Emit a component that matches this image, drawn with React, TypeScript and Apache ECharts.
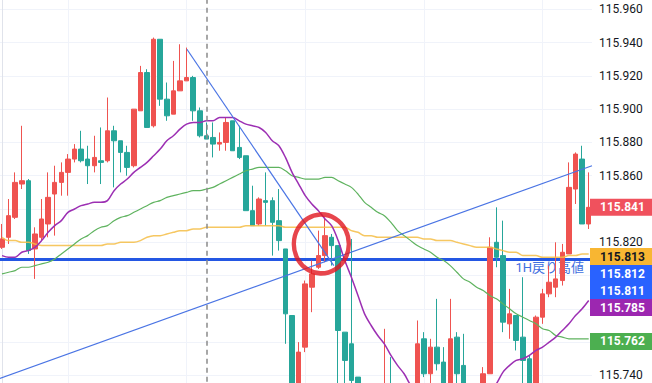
import React, { useEffect, useRef } from 'react';
import * as echarts from 'echarts';

// ---- data ----
const opens = [
  115.817, 115.823, 115.835, 115.855, 115.857, 115.816, 115.823, 115.831, 115.849, 115.856,
  115.862, 115.870, 115.876, 115.870, 115.866, 115.869, 115.869, 115.887, 115.881, 115.874,
  115.866, 115.899, 115.922, 115.890, 115.942, 115.906, 115.897, 115.911, 115.917, 115.919,
  115.899, 115.884, 115.883, 115.879, 115.880, 115.893, 115.877, 115.872, 115.839, 115.831,
  115.845, 115.845, 115.833, 115.816, 115.776, 115.732, 115.757, 115.793, 115.805, 115.812,
  115.823, 115.818, 115.766, 115.759, 115.739, 115.728, 115.720, 115.725, 115.722, 115.733,
  115.726, 115.718, 115.722, 115.728, 115.762, 115.741, 115.757, 115.748, 115.731, 115.763,
  115.746, 115.730, 115.724, 115.729, 115.741, 115.820, 115.812, 115.771, 115.776, 115.763,
  115.750, 115.733, 115.775, 115.789, 115.793, 115.797, 115.813, 115.852, 115.870, 115.831,
];
const closes = [
  115.822, 115.836, 115.856, 115.857, 115.815, 115.825, 115.834, 115.847, 115.856, 115.862,
  115.870, 115.876, 115.869, 115.866, 115.871, 115.868, 115.887, 115.881, 115.874, 115.865,
  115.900, 115.922, 115.889, 115.942, 115.906, 115.896, 115.911, 115.917, 115.919, 115.899,
  115.884, 115.882, 115.879, 115.880, 115.892, 115.875, 115.871, 115.839, 115.830, 115.846,
  115.844, 115.832, 115.821, 115.777, 115.730, 115.754, 115.795, 115.801, 115.812, 115.824,
  115.818, 115.767, 115.749, 115.737, 115.728, 115.720, 115.725, 115.722, 115.733, 115.726,
  115.718, 115.722, 115.728, 115.759, 115.741, 115.757, 115.747, 115.730, 115.762, 115.741,
  115.730, 115.724, 115.729, 115.741, 115.817, 115.811, 115.772, 115.777, 115.761, 115.749,
  115.733, 115.775, 115.789, 115.796, 115.798, 115.814, 115.853, 115.873, 115.831, 115.841,
];
const lows = [
  115.816, 115.819, 115.834, 115.852, 115.813, 115.798, 115.821, 115.823, 115.824, 115.848,
  115.848, 115.868, 115.868, 115.855, 115.862, 115.855, 115.868, 115.853, 115.862, 115.860,
  115.865, 115.899, 115.889, 115.889, 115.902, 115.893, 115.897, 115.911, 115.917, 115.893,
  115.883, 115.882, 115.871, 115.875, 115.875, 115.875, 115.870, 115.839, 115.830, 115.830,
  115.830, 115.812, 115.815, 115.759, 115.726, 115.728, 115.754, 115.778, 115.804, 115.808,
  115.806, 115.730, 115.732, 115.730, 115.724, 115.715, 115.712, 115.716, 115.718, 115.720,
  115.712, 115.710, 115.716, 115.724, 115.739, 115.733, 115.743, 115.726, 115.728, 115.735,
  115.726, 115.718, 115.720, 115.726, 115.741, 115.805, 115.766, 115.762, 115.755, 115.733,
  115.729, 115.729, 115.771, 115.787, 115.787, 115.794, 115.813, 115.843, 115.831, 115.828,
];
const highs = [
  115.831, 115.846, 115.862, 115.890, 115.858, 115.829, 115.846, 115.862, 115.866, 115.868,
  115.873, 115.879, 115.887, 115.878, 115.884, 115.889, 115.907, 115.890, 115.881, 115.878,
  115.900, 115.926, 115.924, 115.943, 115.942, 115.916, 115.929, 115.939, 115.937, 115.920,
  115.901, 115.892, 115.892, 115.886, 115.895, 115.893, 115.890, 115.872, 115.854, 115.847,
  115.862, 115.847, 115.852, 115.816, 115.776, 115.760, 115.797, 115.809, 115.827, 115.835,
  115.825, 115.818, 115.766, 115.822, 115.739, 115.733, 115.731, 115.733, 115.768, 115.751,
  115.733, 115.730, 115.733, 115.773, 115.766, 115.762, 115.786, 115.757, 115.786, 115.766,
  115.765, 115.734, 115.733, 115.745, 115.823, 115.841, 115.833, 115.792, 115.776, 115.799,
  115.752, 115.776, 115.792, 115.806, 115.820, 115.819, 115.868, 115.874, 115.878, 115.862,
];
// purple (short MA)
const maShort = [
  115.812, 115.811, 115.811, 115.814, 115.815, 115.817, 115.821, 115.826, 115.830, 115.833,
  115.838, 115.840, 115.842, 115.843, 115.844, 115.844, 115.845, 115.851, 115.855, 115.858,
  115.862, 115.865, 115.868, 115.872, 115.876, 115.881, 115.884, 115.888, 115.891, 115.892,
  115.892, 115.893, 115.893, 115.895, 115.895, 115.895, 115.893, 115.891, 115.890, 115.889,
  115.886, 115.881, 115.878, 115.871, 115.862, 115.855, 115.848, 115.843, 115.839, 115.834,
  115.830, 115.821, 115.809, 115.799, 115.788, 115.777, 115.770, 115.764, 115.759, 115.752,
  115.746, 115.741, 115.734, 115.729, 115.726, 115.724, 115.722, 115.721, 115.720, 115.720,
  115.721, 115.722, 115.724, 115.727, 115.730, 115.735, 115.742, 115.746, 115.749, 115.750,
  115.752, 115.755, 115.757, 115.760, 115.763, 115.767, 115.771, 115.776, 115.780, 115.785,
];
// green (middle MA)
const maMid = [
  115.801, 115.802, 115.803, 115.805, 115.805, 115.806, 115.807, 115.808, 115.810, 115.813,
  115.816, 115.819, 115.822, 115.824, 115.827, 115.829, 115.830, 115.833, 115.835, 115.836,
  115.838, 115.840, 115.842, 115.844, 115.845, 115.847, 115.848, 115.849, 115.850, 115.851,
  115.851, 115.852, 115.853, 115.855, 115.857, 115.859, 115.861, 115.863, 115.864, 115.865,
  115.865, 115.865, 115.865, 115.863, 115.860, 115.859, 115.858, 115.858, 115.858, 115.859,
  115.859, 115.857, 115.855, 115.853, 115.849, 115.844, 115.841, 115.838, 115.836, 115.832,
  115.827, 115.824, 115.821, 115.818, 115.816, 115.814, 115.811, 115.809, 115.806, 115.802,
  115.798, 115.796, 115.793, 115.791, 115.788, 115.786, 115.783, 115.780, 115.777, 115.775,
  115.773, 115.771, 115.768, 115.767, 115.764, 115.763, 115.762, 115.762, 115.762, 115.762,
];
// yellow (long MA)
const maLong = [
  115.823, 115.821, 115.821, 115.820, 115.820, 115.819, 115.818, 115.818, 115.818, 115.818,
  115.818, 115.818, 115.818, 115.818, 115.818, 115.818, 115.819, 115.819, 115.820, 115.820,
  115.820, 115.821, 115.823, 115.824, 115.824, 115.825, 115.826, 115.827, 115.827, 115.828,
  115.828, 115.829, 115.829, 115.829, 115.829, 115.829, 115.829, 115.830, 115.830, 115.830,
  115.830, 115.830, 115.830, 115.829, 115.829, 115.829, 115.829, 115.829, 115.829, 115.829,
  115.829, 115.829, 115.829, 115.827, 115.826, 115.824, 115.824, 115.823, 115.823, 115.823,
  115.823, 115.823, 115.823, 115.823, 115.822, 115.822, 115.821, 115.821, 115.821, 115.820,
  115.819, 115.818, 115.817, 115.817, 115.817, 115.816, 115.815, 115.814, 115.814, 115.812,
  115.812, 115.812, 115.811, 115.811, 115.811, 115.811, 115.812, 115.812, 115.813, 115.813,
];
const categories = opens.map((_, i) => String(i));
const yMin = 115.72;
const yMax = 115.98;
const yInterval = 0.02;
const gridLineIdx = [10, 28, 46, 64, 82];
const dashedIdx = 31;
const resistance = 115.811;
const resistanceLabel = '1H戻り高値';
const downTrend = [[28.05, 115.936], [50.33, 115.806]];
const upTrend = [[-0.5, 115.738], [89.5, 115.866]];
const circleMark = [48.44, 115.819];
const tagValues = [115.841, 115.813, 115.812, 115.811, 115.785, 115.762];

// ---- styles ----
const tagFill = ['#f0515d', '#f8b632', '#2962ff', '#2962ff', '#9c27b0', '#4caf50'];
const tagText = ['#ffffff', '#131722', '#ffffff', '#ffffff', '#ffffff', '#ffffff'];
const UP = '#ef5350';
const DOWN = '#26a69a';
const FONT = 'Roboto, "Noto Sans CJK JP", sans-serif';

export default function App() {
  const ref = useRef<HTMLDivElement>(null);
  useEffect(() => {
    const chart = echarts.init(ref.current!, null, { renderer: 'svg' });
    const candleData = opens.map((o, i) => [o, closes[i], lows[i], highs[i]]);
    let hidden: number[] = [];
    const labelFormatter = (v: number) =>
      hidden.some((h) => Math.abs(h - v) < 1e-6) ? '' : v.toFixed(3);
    chart.setOption({
      animation: false,
      backgroundColor: '#ffffff',
      textStyle: { fontFamily: FONT },
      grid: {
        left: -1.3,
        right: 60,
        top: -23.98,
        bottom: -25.7,
        containLabel: false,
        outerBoundsMode: 'none',
      },
      xAxis: [
        {
          type: 'category',
          data: categories,
          boundaryGap: true,
          axisLine: { show: false },
          axisTick: { show: false },
          axisLabel: { show: false },
          splitLine: { show: false },
        },
        { type: 'value', min: -0.5, max: 89.5, show: false, splitLine: { show: false } },
      ],
      yAxis: {
        type: 'value',
        position: 'right',
        min: yMin,
        max: yMax,
        interval: yInterval,
        offset: -2,
        axisLine: { show: true, lineStyle: { color: '#e0e3eb', width: 1 } },
        axisTick: { show: false },
        axisLabel: {
          margin: 9,
          color: '#131722',
          fontSize: 12,
          fontFamily: FONT,
          formatter: labelFormatter,
        },
        splitLine: { show: true, lineStyle: { color: '#f0f3fa', width: 1 } },
      },
      series: [
        {
          name: 'vgrid',
          type: 'line',
          xAxisIndex: 1,
          data: [],
          markLine: {
            z: 0,
            silent: true,
            symbol: 'none',
            label: { show: false },
            lineStyle: { color: '#f0f3fa', width: 1, type: 'solid' },
            data: gridLineIdx.map((v) => ({ xAxis: v })),
          },
        },
        {
          name: 'resistance',
          type: 'line',
          xAxisIndex: 1,
          data: [],
          markLine: {
            z: 1,
            silent: true,
            symbol: 'none',
            lineStyle: { color: '#2457e3', width: 3, type: 'solid' },
            label: {
              show: true,
              position: 'insideEndBottom',
              formatter: resistanceLabel,
              color: '#3f6fe0',
              fontSize: 13,
              fontFamily: FONT,
              distance: [8, 2],
            },
            data: [{ yAxis: resistance }],
          },
        },
        {
          name: 'candles',
          type: 'candlestick',
          z: 2,
          barWidth: 5,
          data: candleData,
          itemStyle: {
            color: UP,
            color0: DOWN,
            borderColor: UP,
            borderColor0: DOWN,
            borderWidth: 1,
          },
        },
        {
          name: 'maLong',
          type: 'line',
          z: 3,
          data: maLong,
          showSymbol: false,
          smooth: 0.3,
          lineStyle: { color: '#f5bd45', width: 1.5, opacity: 0.85 },
        },
        {
          name: 'maMid',
          type: 'line',
          z: 3,
          data: maMid,
          showSymbol: false,
          smooth: 0.3,
          lineStyle: { color: '#5fb35f', width: 1.2 },
        },
        {
          name: 'maShort',
          type: 'line',
          z: 3,
          data: maShort,
          showSymbol: false,
          smooth: 0.3,
          lineStyle: { color: '#9c2fb3', width: 1.5 },
        },
        {
          name: 'dashed',
          type: 'line',
          xAxisIndex: 1,
          data: [],
          markLine: {
            z: 4,
            silent: true,
            symbol: 'none',
            label: { show: false },
            lineStyle: { color: '#8a8a8a', width: 1.5, type: [5, 4] },
            data: [{ xAxis: dashedIdx }],
          },
        },
        {
          name: 'downTrend',
          type: 'line',
          xAxisIndex: 1,
          z: 4,
          data: downTrend,
          showSymbol: false,
          lineStyle: { color: '#4a74e4', width: 1.2 },
        },
        {
          name: 'upTrend',
          type: 'line',
          xAxisIndex: 1,
          z: 4,
          data: upTrend,
          showSymbol: false,
          lineStyle: { color: '#4a74e4', width: 1.2 },
        },
        {
          name: 'circle',
          type: 'scatter',
          xAxisIndex: 1,
          z: 5,
          data: [circleMark],
          symbol: 'circle',
          symbolSize: [55, 59],
          itemStyle: { color: 'rgba(0,0,0,0)', borderColor: '#e1161f', borderWidth: 4.5 },
        },
      ],
    });

    // price tags on the right scale, stacked so they do not overlap
    const H = 17;
    const NUDGE = 2.6;
    const ys = tagValues.map((v) => chart.convertToPixel({ yAxisIndex: 0 }, v) as number);
    const pos: number[] = [];
    ys.forEach((y, i) => {
      pos.push(i === 0 ? y : Math.max(y + NUDGE, pos[i - 1] + H));
    });
    // tick labels that sit under a tag, or outside the picture, are not visible in the reference
    const ticks: number[] = [];
    for (let k = 0; yMin + k * yInterval <= yMax + 1e-9; k++) ticks.push(+(yMin + k * yInterval).toFixed(3));
    hidden = ticks.filter((t) => {
      const ty = chart.convertToPixel({ yAxisIndex: 0 }, t) as number;
      if (ty < 5 || ty > 378) return true;
      return pos.some((p) => Math.abs(p - ty) < H / 2 + 2);
    });
    const elements: any[] = [];
    tagValues.forEach((v, i) => {
      elements.push({
        type: 'rect',
        z: 100,
        shape: { x: 590, y: pos[i] - H / 2, width: 62, height: H },
        style: { fill: tagFill[i] },
      });
      elements.push({
        type: 'text',
        z: 101,
        x: 600,
        y: pos[i],
        style: {
          text: v.toFixed(3),
          fill: tagText[i],
          font: `bold 12px ${FONT}`,
          verticalAlign: 'middle',
          align: 'left',
        },
      });
    });
    chart.setOption({ graphic: elements, yAxis: { axisLabel: { formatter: labelFormatter } } });

    return () => chart.dispose();
  }, []);
  return (
    <div
      ref={ref}
      style={{ position: 'fixed', left: 0, top: 0, width: 652, height: 383, background: '#fff' }}
    />
  );
}
